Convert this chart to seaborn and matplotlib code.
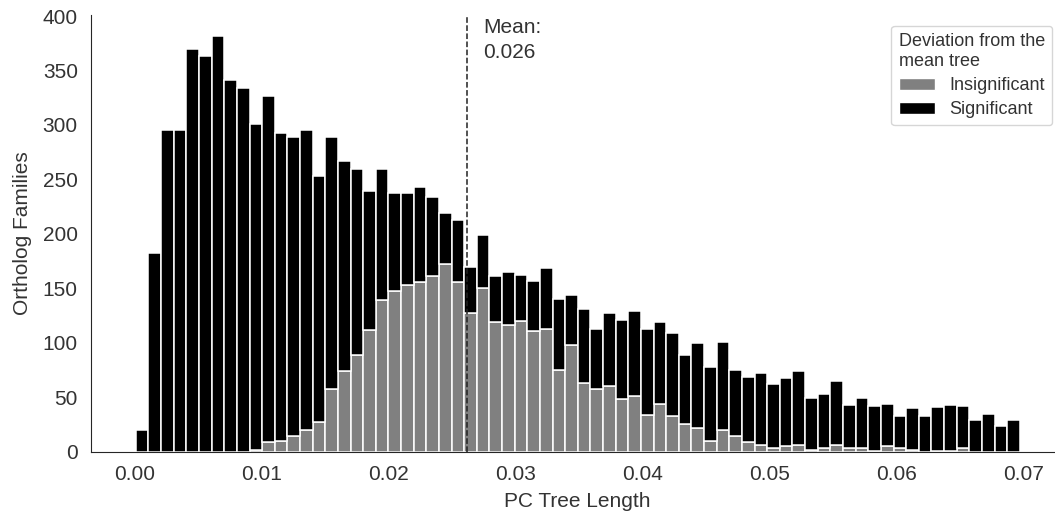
import numpy as np
import pandas as pd
import matplotlib
matplotlib.use("Agg")
import matplotlib.pyplot as plt
import seaborn as sns
from matplotlib.patches import Patch

# ---- data (counts per bin, 70 bins) ----
total_counts = [20, 182, 295, 295, 370, 363, 382, 341, 334, 301,
                327, 293, 289, 295, 253, 289, 267, 260, 239, 260,
                238, 238, 243, 234, 219, 213, 170, 199, 161, 165,
                162, 157, 169, 140, 144, 131, 113, 127, 121, 129,
                113, 119, 109, 89, 100, 78, 101, 75, 69, 72,
                62, 68, 74, 49, 53, 65, 43, 49, 42, 44,
                33, 40, 33, 41, 43, 42, 29, 35, 24, 29]
insignificant_counts = [0, 0, 0, 0, 0, 0, 0, 0, 0, 2,
                        9, 10, 14, 20, 27, 58, 74, 89, 112, 139,
                        148, 153, 156, 161, 172, 156, 127, 150, 119, 116,
                        120, 111, 113, 75, 98, 63, 58, 60, 48, 51,
                        34, 44, 33, 25, 22, 10, 20, 14, 9, 6,
                        3, 5, 6, 2, 3, 6, 3, 3, 1, 5,
                        3, 2, 0, 1, 1, 3, 0, 0, 0, 0]
significant_counts = [t - i for t, i in zip(total_counts, insignificant_counts)]
length_min, length_max = 0.00013, 0.0697
mean_length = 0.0262
mean_label = "Mean:\n0.026"
levels = ["Insignificant", "Significant"]
colors = {"Insignificant": "#808080", "Significant": "#000000"}

edges = np.linspace(length_min, length_max, len(total_counts) + 1)
centers = (edges[:-1] + edges[1:]) / 2

df = pd.concat([
    pd.DataFrame({"length": centers, "count": insignificant_counts, "dev": "Insignificant"}),
    pd.DataFrame({"length": centers, "count": significant_counts, "dev": "Significant"}),
], ignore_index=True)

sns.set_style("white")
plt.rcParams["font.family"] = ["Liberation Sans", "DejaVu Sans"]

W, H = 1055, 511
fig = plt.figure(figsize=(W / 100, H / 100), dpi=100)
ax = fig.add_axes([91 / W, 1 - 451.7 / H, (1063 - 91) / W, (451.7 - 15) / H])

sns.histplot(data=df, x="length", weights="count", hue="dev",
             hue_order=["Significant", "Insignificant"], multiple="stack",
             bins=[float(e) for e in edges], palette=colors, edgecolor="white",
             linewidth=1.1, alpha=1, legend=False, ax=ax)

ax.axvline(mean_length, color="#222222", linestyle="--", linewidth=1.1)
ax.text(0.02745, 398, mean_label, ha="left", va="top", fontsize=15,
        color="#333333", linespacing=1.35)

ax.set_xlim(-0.0034, 0.0731)
ax.set_ylim(0, 401)
ax.set_xticks([0.0, 0.01, 0.02, 0.03, 0.04, 0.05, 0.06, 0.07])
ax.set_xticklabels(["0.00", "0.01", "0.02", "0.03", "0.04", "0.05", "0.06", "0.07"])
ax.set_yticks(range(0, 401, 50))
ax.tick_params(axis="both", labelsize=15, pad=6, labelcolor="#333333")
ax.set_xlabel("PC Tree Length", fontsize=15, color="#333333")
ax.set_ylabel("Ortholog Families", fontsize=15, color="#333333")
ax.yaxis.set_label_coords(-0.061, 0.5)
ax.xaxis.set_label_coords(0.5, -0.092)
sns.despine(ax=ax)

handles = [Patch(facecolor=colors[l], edgecolor="white", label=l) for l in levels]
leg = ax.legend(handles=handles, title="Deviation from the\nmean tree", loc="upper right",
                fontsize=13, title_fontsize=13, alignment="left", borderaxespad=0.6,
                labelspacing=0.4, handleheight=0.65)
for t in leg.get_texts():
    t.set_color("#333333")
leg.get_title().set_color("#333333")

fig.savefig("out.png", dpi=100)
